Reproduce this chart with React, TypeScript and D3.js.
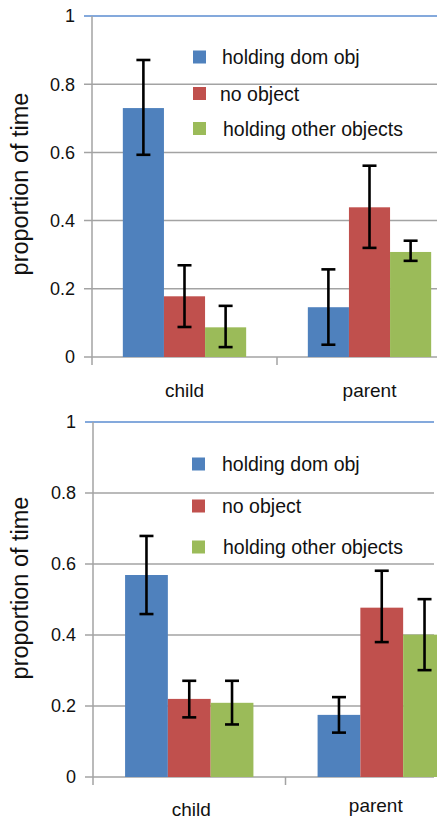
import React from "react";
import * as d3 from "d3";

const categories = ["child", "parent"];
const seriesNames = ["holding dom obj", "no object", "holding other objects"];
const seriesColors = ["#4F81BD", "#C0504D", "#9BBB59"];
const yTicks = [0, 0.2, 0.4, 0.6, 0.8, 1];
const yTickLabels = ["0", "0.2", "0.4", "0.6", "0.8", "1"];

// top panel
const topDom = [0.73, 0.146];
const topDomLo = [0.593, 0.036];
const topDomHi = [0.871, 0.257];
const topNoObj = [0.178, 0.439];
const topNoObjLo = [0.088, 0.32];
const topNoObjHi = [0.269, 0.561];
const topOther = [0.087, 0.308];
const topOtherLo = [0.029, 0.282];
const topOtherHi = [0.15, 0.341];

// bottom panel
const botDom = [0.569, 0.175];
const botDomLo = [0.459, 0.125];
const botDomHi = [0.679, 0.225];
const botNoObj = [0.22, 0.477];
const botNoObjLo = [0.168, 0.38];
const botNoObjHi = [0.271, 0.581];
const botOther = [0.209, 0.401];
const botOtherLo = [0.148, 0.301];
const botOtherHi = [0.271, 0.501];

const FONT = "'Liberation Sans', Arial, sans-serif";

type Cfg = {
  id: string;
  axisX: number;
  plotRight: number;
  gridRight: number;
  y0: number;
  y1: number;
  bandRange: [number, number];
  catLabelY: number[];
  catLabelDx: number[];
  yLabelCenter: number;
  legendX: number;
  legendRows: number[];
  textX: number[];
  values: number[][];
  lo: number[][];
  hi: number[][];
};

function Panel({ cfg }: { cfg: Cfg }) {
  const y = d3.scaleLinear().domain([0, 1]).range([cfg.y0, cfg.y1]);
  const x = d3.scaleBand<string>().domain(categories).range(cfg.bandRange);
  const inner = d3
    .scaleBand<string>()
    .domain(seriesNames)
    .range([0, x.bandwidth()])
    .paddingInner(0)
    .paddingOuter(0.75);
  const bw = inner.bandwidth();
  const cap = 7;
  return (
    <g>
      <defs>
        <clipPath id={"clip-" + cfg.id}>
          <rect x={cfg.axisX} y={cfg.y1 - 5} width={cfg.plotRight - cfg.axisX} height={cfg.y0 - cfg.y1 + 10} />
        </clipPath>
      </defs>
      {/* gridlines */}
      {yTicks.map((t, i) => (
        <line
          key={"g" + i}
          x1={cfg.axisX - 8}
          x2={cfg.gridRight}
          y1={y(t)}
          y2={y(t)}
          stroke={t === 1 ? "#5B8DD0" : "#A3A3A3"}
          strokeWidth={1.5}
        />
      ))}
      {yTicks.map((t, i) => (
        <text
          key={"t" + i}
          x={cfg.axisX - 17}
          y={y(t)}
          dy="0.35em"
          textAnchor="end"
          fontFamily={FONT}
          fontSize={18}
          fill="#111"
        >
          {yTickLabels[i]}
        </text>
      ))}
      {/* axes */}
      <line x1={cfg.axisX} x2={cfg.axisX} y1={cfg.y1} y2={cfg.y0 + 8} stroke="#A3A3A3" strokeWidth={1.5} />
      <line x1={x("parent")!} x2={x("parent")!} y1={cfg.y0} y2={cfg.y0 + 8} stroke="#A3A3A3" strokeWidth={1.5} />
      {/* bars */}
      <g clipPath={`url(#clip-${cfg.id})`}>
        {categories.map((c, ci) =>
          seriesNames.map((s, si) => {
            const v = cfg.values[si][ci];
            return (
              <rect
                key={c + s}
                x={x(c)! + inner(s)!}
                y={y(v)}
                width={bw}
                height={y(0) - y(v)}
                fill={seriesColors[si]}
              />
            );
          })
        )}
      </g>
      {/* error bars */}
      {categories.map((c, ci) =>
        seriesNames.map((s, si) => {
          const cx = x(c)! + inner(s)! + bw / 2;
          const lo = cfg.lo[si][ci];
          const hi = cfg.hi[si][ci];
          return (
            <g key={"e" + c + s} stroke="#000" strokeWidth={2.6}>
              <line x1={cx} x2={cx} y1={y(lo)} y2={y(hi)} />
              <line x1={cx - cap} x2={cx + cap} y1={y(hi)} y2={y(hi)} />
              <line x1={cx - cap} x2={cx + cap} y1={y(lo)} y2={y(lo)} />
            </g>
          );
        })
      )}
      {/* category labels */}
      {categories.map((c, ci) => (
        <text
          key={"c" + c}
          x={x(c)! + x.bandwidth() / 2 + cfg.catLabelDx[ci]}
          y={cfg.catLabelY[ci]}
          textAnchor="middle"
          fontFamily={FONT}
          fontSize={19}
          fill="#111"
        >
          {c}
        </text>
      ))}
      {/* y label */}
      <text
        transform={`translate(28,${cfg.yLabelCenter}) rotate(-90)`}
        textAnchor="middle"
        fontFamily={FONT}
        fontSize={23.5}
        fill="#111"
      >
        proportion of time
      </text>
      {/* legend */}
      {seriesNames.map((s, si) => (
        <g key={"l" + s}>
          <rect x={cfg.legendX} y={cfg.legendRows[si] - 6.5} width={13} height={13} fill={seriesColors[si]} />
          <text
            x={cfg.textX[si]}
            y={cfg.legendRows[si] + 7}
            fontFamily={FONT}
            fontSize={19.5}
            fill="#111"
          >
            {s}
          </text>
        </g>
      ))}
    </g>
  );
}

const topCfg: Cfg = {
  id: "top",
  axisX: 92,
  plotRight: 437,
  gridRight: 437,
  y0: 357,
  y1: 16,
  bandRange: [92, 462],
  catLabelY: [396.7, 396.7],
  catLabelDx: [0, 0],
  yLabelCenter: 184,
  legendX: 193,
  legendRows: [57, 93.5, 128.5],
  textX: [222, 220, 223],
  values: [topDom, topNoObj, topOther],
  lo: [topDomLo, topNoObjLo, topOtherLo],
  hi: [topDomHi, topNoObjHi, topOtherHi],
};

const botCfg: Cfg = {
  id: "bot",
  axisX: 93,
  plotRight: 437,
  gridRight: 434,
  y0: 777,
  y1: 422,
  bandRange: [93, 478],
  catLabelY: [816, 812],
  catLabelDx: [2, -6],
  yLabelCenter: 588,
  legendX: 192,
  legendRows: [464, 506, 547],
  textX: [222, 222, 223],
  values: [botDom, botNoObj, botOther],
  lo: [botDomLo, botNoObjLo, botOtherLo],
  hi: [botDomHi, botNoObjHi, botOtherHi],
};

export default function App() {
  return (
    <svg
      width={446}
      height={826}
      style={{ position: "absolute", left: 0, top: 0, background: "#fff" }}
    >
      <rect x={0} y={0} width={446} height={826} fill="#fff" />
      <Panel cfg={topCfg} />
      <Panel cfg={botCfg} />
    </svg>
  );
}
